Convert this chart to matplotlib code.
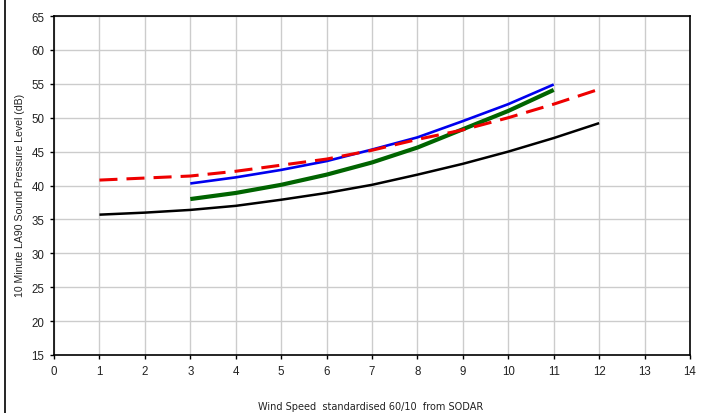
import matplotlib
matplotlib.use("Agg")
import matplotlib.pyplot as plt
from matplotlib.lines import Line2D

# ---- data ----
speed_black = [1, 2, 3, 4, 5, 6, 7, 8, 9, 10, 11, 12]
level_black = [35.7, 36.0, 36.4, 37.0, 37.9, 38.9, 40.1, 41.6, 43.2, 45.0, 47.0, 49.2]

speed_red = [1, 2, 3, 4, 5, 6, 7, 8, 9, 10, 11, 12]
level_red = [40.8, 41.1, 41.4, 42.1, 43.0, 43.9, 45.2, 46.8, 48.2, 50.0, 52.0, 54.2]

speed_blue = [3, 4, 5, 6, 7, 8, 9, 10, 11]
level_blue = [40.3, 41.2, 42.3, 43.6, 45.3, 47.1, 49.5, 52.0, 54.9]

speed_green = [3, 4, 5, 6, 7, 8, 9, 10, 11]
level_green = [38.0, 38.9, 40.1, 41.6, 43.4, 45.6, 48.3, 51.0, 54.1]

x_ticks = list(range(0, 15))
y_ticks = list(range(15, 66, 5))

plt.rcParams['lines.scale_dashes'] = False

fig = plt.figure(figsize=(7.05, 4.14), dpi=100)
ax = fig.add_axes([0.0766, 0.1401, 0.9021, 0.8188])

ax.plot(speed_black, level_black, color='black', lw=1.8, solid_capstyle='butt')
ax.plot(speed_green, level_green, color='#006400', lw=3.0, solid_capstyle='butt')
ax.plot(speed_blue, level_blue, color='#0000ee', lw=1.9, solid_capstyle='butt')
ax.plot(speed_red, level_red, color='#ee0000', lw=2.2, dashes=(13, 6.5))

ax.set_xlim(0, 14)
ax.set_ylim(15, 65)
ax.set_xticks(x_ticks)
ax.set_yticks(y_ticks)
ax.grid(True, color='#cccccc', lw=1.0)
ax.set_axisbelow(True)

for s in ax.spines.values():
    s.set_color('black')
    s.set_linewidth(1.2)

ax.tick_params(direction='out', length=3, width=1, colors='black',
               labelsize=8.3, pad=4)
for lab in ax.get_xticklabels() + ax.get_yticklabels():
    lab.set_family('Liberation Sans')
    lab.set_color('#222222')

fig.text(0.525, 0.017, 'Wind Speed  standardised 60/10  from SODAR',
         ha='center', va='center', fontsize=7.0, family='DejaVu Sans', color='#222222')
fig.text(0.028, 0.528, '10 Minute LA90 Sound Pressure Level (dB)', rotation=90,
         ha='center', va='center', fontsize=7.6, family='Liberation Sans', color='#222222')

# left border line of the chart frame
fig.add_artist(Line2D([0.0075, 0.0075], [0, 1], transform=fig.transFigure,
                      color='black', lw=1.2))

fig.savefig('out.png', dpi=100)
